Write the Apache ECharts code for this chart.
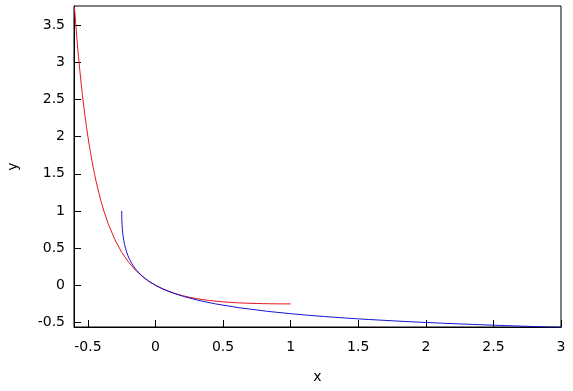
<!DOCTYPE html>
<html>
<head>
<meta charset="utf-8">
<script src="https://cdn.jsdelivr.net/npm/echarts@6/dist/echarts.min.js"></script>
<style>html,body{margin:0;padding:0;background:#fff}#c{width:573px;height:391px}</style>
</head>
<body>
<div id="c"></div>
<script>
var xTicks = [-0.5, 0, 0.5, 1, 1.5, 2, 2.5, 3];
var yTicks = [-0.5, 0, 0.5, 1, 1.5, 2, 2.5, 3, 3.5];

var redX = [-0.6, -0.58, -0.57, -0.56, -0.55, -0.54, -0.53, -0.52, -0.51, -0.5, -0.49, -0.48, -0.46, -0.45, -0.44, -0.42, -0.4, -0.38, -0.35, -0.3, -0.25, -0.2, -0.15, -0.1, -0.05, 0, 0.05, 0.1, 0.15, 0.2, 0.25, 0.3, 0.35, 0.4, 0.45, 0.5, 0.55, 0.6, 0.65, 0.7, 0.75, 0.8, 0.85, 0.9, 0.95, 1.0];
var redY = [3.75, 3.288, 3.083, 2.893, 2.716, 2.552, 2.399, 2.257, 2.124, 2.0, 1.884, 1.775, 1.578, 1.488, 1.403, 1.249, 1.111, 0.989, 0.828, 0.612, 0.444, 0.3125, 0.2076, 0.1235, 0.0554, 0, -0.0454, -0.0826, -0.1134, -0.1389, -0.16, -0.1775, -0.192, -0.2041, -0.214, -0.2222, -0.2289, -0.2344, -0.2388, -0.2422, -0.2449, -0.2469, -0.2484, -0.2493, -0.2498, -0.25];

var blueX = [-0.25, -0.2498, -0.2493, -0.2484, -0.2469, -0.2449, -0.2422, -0.2388, -0.2344, -0.2289, -0.2222, -0.214, -0.2041, -0.192, -0.1775, -0.16, -0.1389, -0.1134, -0.0826, -0.0454, 0, 0.0554, 0.1235, 0.2076, 0.3125, 0.444, 0.612, 0.828, 0.989, 1.111, 1.249, 1.403, 1.488, 1.578, 1.775, 1.884, 2.0, 2.124, 2.257, 2.399, 2.552, 2.716, 2.893, 3.083, 3.288];
var blueY = [1.0, 0.95, 0.9, 0.85, 0.8, 0.75, 0.7, 0.65, 0.6, 0.55, 0.5, 0.45, 0.4, 0.35, 0.3, 0.25, 0.2, 0.15, 0.1, 0.05, 0, -0.05, -0.1, -0.15, -0.2, -0.25, -0.3, -0.35, -0.38, -0.4, -0.42, -0.44, -0.45, -0.46, -0.48, -0.49, -0.5, -0.51, -0.52, -0.53, -0.54, -0.55, -0.56, -0.57, -0.58];

function pairs(xs, ys) { return xs.map(function (x, i) { return [x, ys[i]]; }); }

var font = 'DejaVu Sans';
var chart = echarts.init(document.getElementById('c'), null, {renderer: 'canvas'});
chart.setOption({
  animation: false,
  backgroundColor: '#fff',
  grid: {left: 74, top: 6, right: 12, bottom: 64, containLabel: false, outerBoundsMode: 'none',
         show: true, borderColor: '#000', borderWidth: 1, backgroundColor: 'transparent'},
  xAxis: {
    type: 'value', min: -0.603, max: 3.0,
    name: 'x', nameLocation: 'middle', nameGap: 43,
    nameTextStyle: {fontFamily: font, fontSize: 14, color: '#000'},
    axisLine: {show: true, onZero: false, lineStyle: {color: '#000', width: 1}},
    axisTick: {show: true, inside: true, length: 7, customValues: xTicks, lineStyle: {color: '#000'}},
    axisLabel: {customValues: xTicks, margin: 13, fontFamily: font, fontSize: 14, color: '#000'},
    splitLine: {show: false}
  },
  yAxis: {
    type: 'value', min: -0.561, max: 3.759,
    name: 'y', nameLocation: 'middle', nameGap: 54, nameRotate: 90,
    nameTextStyle: {fontFamily: font, fontSize: 14, color: '#000'},
    axisLine: {show: true, onZero: false, lineStyle: {color: '#000', width: 1}},
    axisTick: {show: true, inside: true, length: 7, customValues: yTicks, lineStyle: {color: '#000'}},
    axisLabel: {customValues: yTicks, margin: 9, fontFamily: font, fontSize: 14, color: '#000'},
    splitLine: {show: false}
  },
  series: [
    {type: 'line', data: pairs(redX, redY), showSymbol: false, smooth: false, clip: true,
     lineStyle: {color: '#e8141c', width: 1}, itemStyle: {color: '#e8141c'}},
    {type: 'line', data: pairs(blueX, blueY), showSymbol: false, smooth: false, clip: true,
     lineStyle: {color: '#1414d8', width: 1}, itemStyle: {color: '#1414d8'}}
  ]
});
</script>
</body>
</html>
